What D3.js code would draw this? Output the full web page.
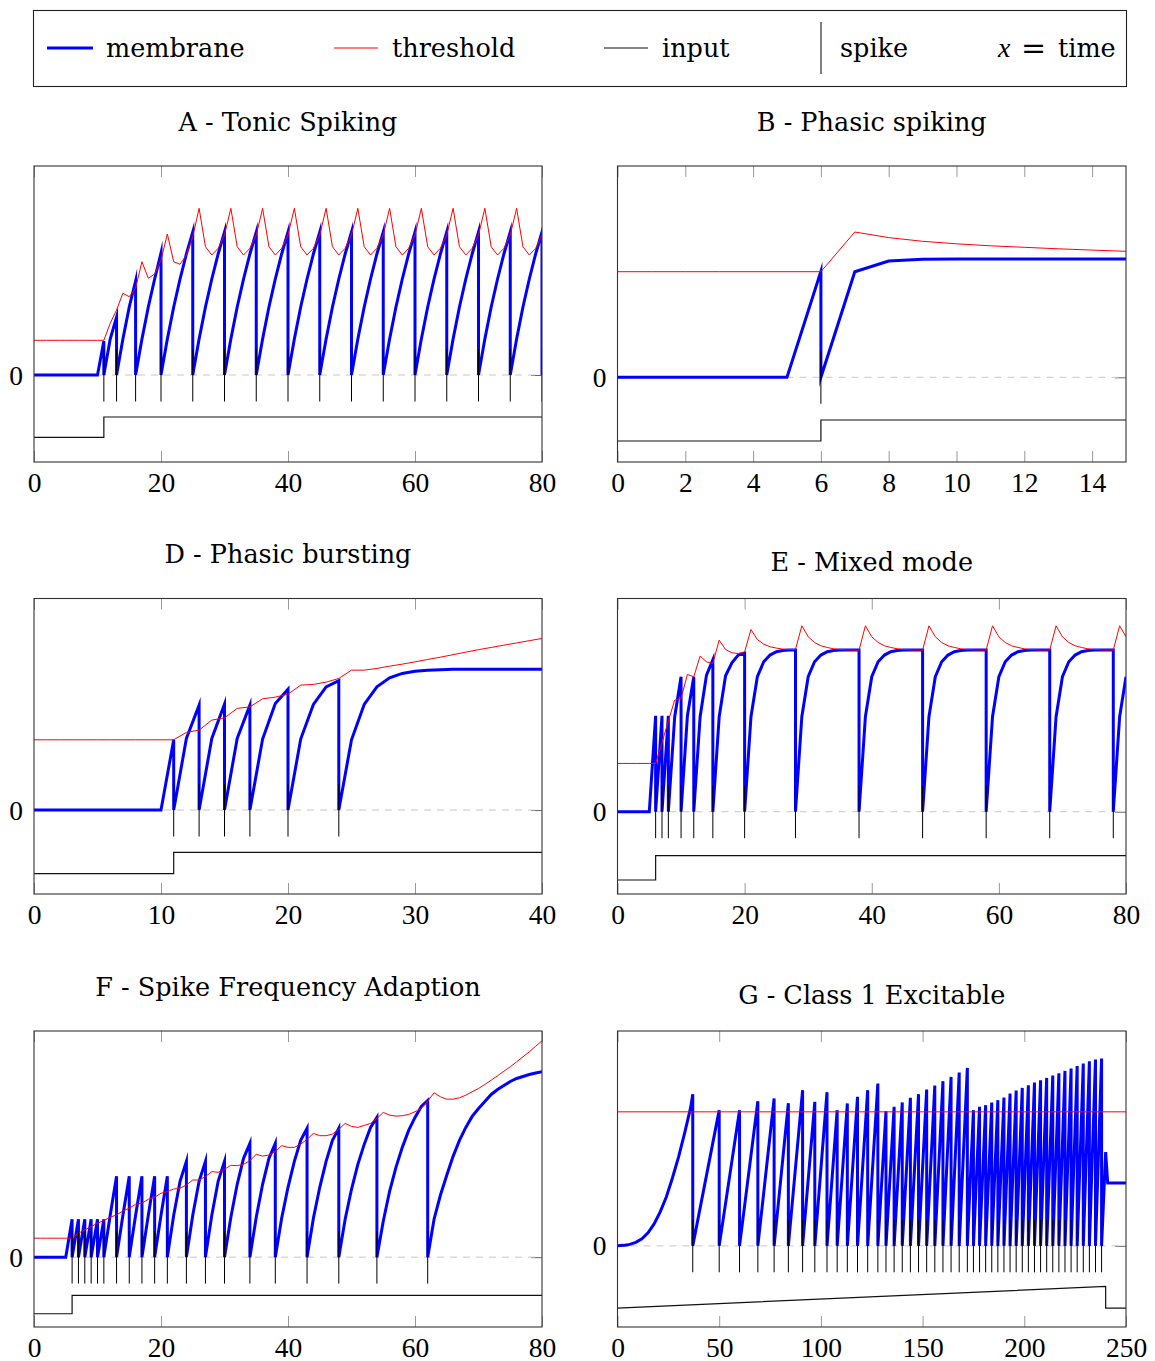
<!DOCTYPE html>
<html lang="en">
<head>
<meta charset="utf-8">
<title>Spiking neuron behaviours</title>
<script src="https://cdn.jsdelivr.net/npm/d3@7"></script>
<style>
  body { margin: 0; background: #fff; }
  .title, .legend-text { font-family: 'DejaVu Serif', serif; font-size: 25.5px; fill: #000; }
  .tick text { font-family: 'Liberation Serif', serif; font-size: 27.5px; fill: #000; }
  .tick line { stroke: #999; stroke-width: 1; }
  .domain { display: none; }
  .frame { fill: none; stroke: #333; stroke-width: 1.1; }
  .zero { stroke: #c8c8c8; stroke-width: 1; stroke-dasharray: 7 6; }
  .membrane { fill: none; stroke: #0000ff; stroke-width: 3; stroke-linejoin: miter; stroke-miterlimit: 10; }
  .threshold { fill: none; stroke: #ff0000; stroke-width: 1; }
  .input { fill: none; stroke: #111; stroke-width: 1.2; }
  .spike { stroke: #000; stroke-width: 1; }
</style>
</head>
<body>
<svg id="chart" width="1155" height="1361"></svg>
<script>
// ---- data ----
// membrane / threshold: one value per time step, index = time
const membraneA = [0,0,0,0,0,0,0,0,0,0,0, 3.4,3.6,5.8,3.6,6.8,9.4,3.6,6.8,9.6,12.2,
  3.6,6.8,9.6,12.1,14.3, 3.6,6.8,9.6,12.1,14.3, 3.6,6.8,9.6,12.1,14.3, 3.6,6.8,9.6,12.1,14.3,
  3.6,6.8,9.6,12.1,14.3, 3.6,6.8,9.6,12.1,14.3, 3.6,6.8,9.6,12.1,14.3, 3.6,6.8,9.6,12.1,14.3,
  3.6,6.8,9.6,12.1,14.3, 3.6,6.8,9.6,12.1,14.3, 3.6,6.8,9.6,12.1,14.3, 3.6,6.8,9.6,12.1,14.3];
const thresholdA = [3.47,3.47,3.47,3.47,3.47,3.47,3.47,3.47,3.47,3.47,3.47,3.47,
  5.17,6.5,8.17,7.83,8.67,11.33,9.67,10.1,11.5,14.1,11.33,11.07,12.0,13.83,
  16.67,12.83,12.0,12.67,14.0, 16.67,12.83,12.0,12.67,14.0, 16.67,12.83,12.0,12.67,14.0,
  16.67,12.83,12.0,12.67,14.0, 16.67,12.83,12.0,12.67,14.0, 16.67,12.83,12.0,12.67,14.0,
  16.67,12.83,12.0,12.67,14.0, 16.67,12.83,12.0,12.67,14.0, 16.67,12.83,12.0,12.67,14.0,
  16.67,12.83,12.0,12.67,14.0, 16.67,12.83,12.0,12.67,14.0];
const inputA = [[0,-6.23],[11,-6.23],[11,-4.2],[80,-4.2]];
const spikesA = [11,13,16,20,25,30,35,40,45,50,55,60,65,70,75,80];

const membraneB = [0,0,0,0,0,0,10.6,10.56,11.63,11.8,11.83,11.83,11.83,11.83,11.83,11.83];
const thresholdB = [10.56,10.56,10.56,10.56,10.56,10.56,10.56,14.53,13.97,13.6,13.35,13.15,13.0,12.85,12.72,12.6];
const inputB = [[0,-6.37],[6,-6.37],[6,-4.27],[15,-4.27]];
const spikesB = [6];

const membraneD = [0,0,0,0,0,0,0,0,0,0,0, 7.03,7.17,10.5,7.17,10.6,7.17,10.5,7.1,10.67,12.1,
  7.1,10.57,12.33,12.95,7.03,10.57,12.33,13.23,13.67,13.9,14.0,14.05,
  14.1,14.1,14.1,14.1,14.1,14.1,14.1,14.1];
const thresholdD = [7.03,7.03,7.03,7.03,7.03,7.03,7.03,7.03,7.03,7.03,7.03,7.03,
  7.77,8.0,9.0,9.23,10.17,10.33,11.13,11.3,11.6,12.5,12.57,12.8,13.17,14.0,14.0,14.17,
  14.4,14.6,14.83,15.07,15.3,15.55,15.8,16.05,16.27,16.5,16.72,16.95,17.17];
const inputD = [[0,-6.37],[11,-6.37],[11,-4.23],[40,-4.23]];
const spikesD = [11,13,15,17,20,24];

const membraneE = [0,0,0,0,0,0, 9.6,9.6,9.6,9.5,13.5,9.6,13.5,9.5,13.67,15.2,9.5,13.6,14.9,15.67,15.85,
  9.5,13.5,15.0,15.67,16.0,16.13,16.17,16.17,
  9.5,13.5,15.0,15.67,16.0,16.13,16.17,16.17,16.17,16.17,
  9.5,13.5,15.0,15.67,16.0,16.13,16.17,16.17,16.17,16.17,
  9.5,13.5,15.0,15.67,16.0,16.13,16.17,16.17,16.17,16.17,
  9.5,13.5,15.0,15.67,16.0,16.13,16.17,16.17,16.17,16.17,
  9.5,13.5,15.0,15.67,16.0,16.13,16.17,16.17,16.17,16.17,
  9.5,13.5];
const thresholdE = [4.83,4.83,4.83,4.83,4.83,4.83,4.83,
  6.9,9.07,11.17,11.33,13.73,13.5,15.57,15.0,14.83,17.17,16.23,15.9,15.83,16.0,
  18.23,17.23,16.77,16.5,16.37,16.27,16.23,16.23,
  18.6,17.5,16.93,16.6,16.43,16.3,16.23,16.2,16.17,16.17,
  18.6,17.5,16.93,16.6,16.43,16.3,16.23,16.2,16.17,16.17,
  18.6,17.5,16.93,16.6,16.43,16.3,16.23,16.2,16.17,16.17,
  18.6,17.5,16.93,16.6,16.43,16.3,16.23,16.2,16.17,16.17,
  18.6,17.5,16.93,16.6,16.43,16.3,16.23,16.2,16.17,16.17,
  18.6,17.5];
const inputE = [[0,-6.83],[6,-6.83],[6,-4.4],[80,-4.4]];
const spikesE = [6,7,8,10,12,15,20,28,38,48,58,68,78];

const membraneF = [0,0,0,0,0,0, 3.8,3.8,3.8,3.8,3.8,3.8,
  4.2,8.1,4.2,8.1,4.2,8.1,4.2,8.1,4.2,8.1,
  4.2,7.6,9.6,4.2,7.6,9.6,4.2,7.6,9.6,
  4.0,7.3,9.9,11.4,4.0,7.3,9.9,11.4,
  3.9,7.0,9.6,11.7,12.9,3.9,7.0,9.6,11.7,12.9,
  3.8,6.8,9.3,11.3,13.0,14.0,
  3.6,6.6,9.0,11.0,12.7,14.0,15.1,15.7,
  3.8,6.2,8.2,10.1,11.7,13.0,14.1,14.9,15.6,16.3,16.8,17.2,17.6,17.9,18.1,18.3,18.45,18.57];
const thresholdF = [1.9,1.9,1.9,1.9,1.9,1.9,1.9,
  2.4,2.73,3.07,3.4,3.67,4.0,4.23,4.63,4.9,5.3,5.4,5.8,6.0,6.4,6.57,6.83,6.9,7.23,7.73,7.73,
  8.07,8.57,8.5,8.8,9.2,9.17,9.3,9.67,10.3,10.13,10.23,10.57,11.17,11.0,11.0,11.33,11.8,
  12.4,12.17,12.17,12.33,12.8,13.4,13.1,13.0,13.2,13.4,13.9,14.5,14.23,14.13,14.17,14.3,
  14.57,14.9,15.63,16.47,16.07,15.83,15.83,15.97,16.23,16.57,16.9,17.3,17.73,18.17,18.63,
  19.07,19.57,20.07,20.57,21.13,21.67];
const inputF = [[0,-5.67],[6,-5.67],[6,-3.83],[80,-3.83]];
const spikesF = [6,7,8,9,10,11,13,15,17,19,21,24,27,30,34,38,43,48,54,62];

// panel G is sampled unevenly: [time, value]
const membraneG = [[0,0],[3,0.05],[6,0.15],[9,0.35],[12,0.7],[15,1.3],[18,2.2],[21,3.4],[24,4.9],
  [27,6.8],[30,8.9],[33,11.3],[36,13.9],[37,15.2],[50,13.6],[60,13.6],[69,14.5],[77,14.77],
  [84,14.3],[91,15.6],[97,14.43],[103,15.4],[108,13.6],[113,14.27],[118,14.93],[123,15.6],
  [128,16.27],[132,13.5],[136,13.93],[140,14.37],[144,14.83],[148,15.2],[152,15.67],[156,16.07],
  [160,16.5],[164,16.93],[168,17.37],[172,17.83],[175,13.6],[178,13.93],[181,14.1],[184,14.37],
  [187,14.6],[190,14.87],[193,15.27],[196,15.57],[199,15.83],[202,16.1],[205,16.37],[208,16.6],
  [211,16.83],[214,17.07],[217,17.3],[220,17.53],[223,17.77],[226,18.03],[229,18.27],[232,18.5],
  [235,18.67],[238,18.77],[240,9.4],[241,6.3],[250,6.3]];
const thresholdG = [[0,13.43],[250,13.43]];
const inputG = [[0,-6.23],[240,-4.07],[240,-6.23],[250,-6.23]];
const spikesG = [37,50,60,69,77,84,91,97,103,108,113,118,123,128,132,136,140,144,148,152,156,
  160,164,168,172,175,178,181,184,187,190,193,196,199,202,205,208,211,214,217,220,223,226,229,
  232,235,238];

// axis ranges and tick labels
const yRangeA = [-8.7, 20.9], yRangeB = [-8.47, 21.13], yRangeD = [-8.4, 21.17];
const yRangeE = [-8.23, 21.33], yRangeF = [-7.0, 22.66], yRangeG = [-8.13, 21.53];
const xTicksA = [0,20,40,60,80], xTicksB = [0,2,4,6,8,10,12,14], xTicksD = [0,10,20,30,40];
const xTicksE = [0,20,40,60,80], xTicksF = [0,20,40,60,80], xTicksG = [0,50,100,150,200,250];
const spikeSpan = [-2.65, 2.6];

const titles = ["A - Tonic Spiking", "B - Phasic spiking", "D - Phasic bursting",
  "E - Mixed mode", "F - Spike Frequency Adaption", "G - Class 1 Excitable"];

const steps = vals => vals.map((v, i) => [i, v]);

const panels = [
  {title: titles[0], left: 34, right: 542, top: 166, bottom: 462, titleY: 130.5, xMax: 80,
   yRange: yRangeA, ticks: xTicksA, membrane: steps(membraneA), threshold: steps(thresholdA), input: inputA, spikes: spikesA},
  {title: titles[1], left: 617.5, right: 1126, top: 166, bottom: 462, titleY: 130.5, xMax: 15,
   yRange: yRangeB, ticks: xTicksB, membrane: steps(membraneB), threshold: steps(thresholdB), input: inputB, spikes: spikesB},
  {title: titles[2], left: 34, right: 542, top: 598.5, bottom: 894, titleY: 563, xMax: 40,
   yRange: yRangeD, ticks: xTicksD, membrane: steps(membraneD), threshold: steps(thresholdD), input: inputD, spikes: spikesD},
  {title: titles[3], left: 617.5, right: 1126, top: 598.5, bottom: 894, titleY: 571, xMax: 80,
   yRange: yRangeE, ticks: xTicksE, membrane: steps(membraneE), threshold: steps(thresholdE), input: inputE, spikes: spikesE},
  {title: titles[4], left: 34, right: 542, top: 1031, bottom: 1327, titleY: 995.5, xMax: 80,
   yRange: yRangeF, ticks: xTicksF, membrane: steps(membraneF), threshold: steps(thresholdF), input: inputF, spikes: spikesF},
  {title: titles[5], left: 617.5, right: 1126, top: 1031, bottom: 1327, titleY: 1003.5, xMax: 250,
   yRange: yRangeG, ticks: xTicksG, membrane: membraneG, threshold: thresholdG, input: inputG, spikes: spikesG}
];

const svg = d3.select("#chart");

// membrane resets to 0 right after each spike
function withResets(points, spikes) {
  let out = [];
  points.forEach(d => {
    out.push(d);
    if (spikes.includes(d[0])) out.push([d[0], 0]);
  });
  return out;
}

function drawPanel(p, k) {
  let x = d3.scaleLinear().domain([0, p.xMax]).range([p.left, p.right]);
  let y = d3.scaleLinear().domain(p.yRange).range([p.bottom, p.top]);
  let line = d3.line().x(d => x(d[0])).y(d => y(d[1]));
  let g = svg.append("g");

  g.append("clipPath").attr("id", "clip" + k)
    .append("rect")
    .attr("x", p.left).attr("y", p.top)
    .attr("width", p.right - p.left).attr("height", p.bottom - p.top);

  // x ticks, bottom (with labels) and top
  g.append("g")
    .attr("transform", "translate(0," + p.bottom + ")")
    .call(d3.axisBottom(x).tickValues(p.ticks).tickSizeInner(-11).tickSizeOuter(0))
    .selectAll("text").attr("y", 29.5).attr("dy", 0);
  g.append("g")
    .attr("transform", "translate(0," + p.top + ")")
    .call(d3.axisTop(x).tickValues(p.ticks).tickSizeInner(-11).tickSizeOuter(0).tickFormat(""));

  // y tick at 0, both sides
  g.append("g")
    .attr("transform", "translate(" + p.left + ",0)")
    .call(d3.axisLeft(y).tickValues([0]).tickSizeInner(-11).tickSizeOuter(0).tickPadding(11))
    .selectAll("text").attr("dy", "0.33em");
  g.append("g")
    .attr("class", "ytick-right")
    .attr("transform", "translate(" + p.right + ",0)")
    .call(d3.axisRight(y).tickValues([0]).tickSizeInner(-11).tickSizeOuter(0).tickFormat(""))
    .selectAll("line").style("stroke", "#666");

  let plot = g.append("g").attr("clip-path", "url(#clip" + k + ")");

  plot.append("line").attr("class", "zero")
    .attr("x1", x(0)).attr("x2", x(p.xMax))
    .attr("y1", y(0)).attr("y2", y(0));

  plot.append("path").attr("class", "membrane")
    .attr("d", line(withResets(p.membrane, p.spikes)));
  plot.append("path").attr("class", "threshold")
    .attr("d", line(p.threshold));
  plot.append("path").attr("class", "input")
    .attr("d", line(p.input));

  plot.selectAll(".spike")
    .data(p.spikes)
    .join("line")
    .attr("class", "spike")
    .attr("x1", d => x(d)).attr("x2", d => x(d))
    .attr("y1", y(spikeSpan[1])).attr("y2", y(spikeSpan[0]));

  g.append("rect").attr("class", "frame")
    .attr("x", p.left).attr("y", p.top)
    .attr("width", p.right - p.left).attr("height", p.bottom - p.top);

  g.append("text").attr("class", "title")
    .attr("x", (p.left + p.right) / 2).attr("y", p.titleY)
    .attr("text-anchor", "middle")
    .text(p.title);
}

panels.forEach(drawPanel);

// legend
const legend = svg.append("g");
legend.append("rect")
  .attr("x", 33.5).attr("y", 10.5).attr("width", 1093).attr("height", 76)
  .attr("fill", "none").attr("stroke", "#222").attr("stroke-width", 1.1);

const legendItems = [
  {cls: "membrane", x1: 47, x2: 93, label: "membrane", tx: 106},
  {cls: "threshold", x1: 334, x2: 378, label: "threshold", tx: 392},
  {cls: "input", x1: 604, x2: 648, label: "input", tx: 662}
];
legendItems.forEach(d => {
  legend.append("line").attr("class", d.cls)
    .attr("x1", d.x1).attr("x2", d.x2).attr("y1", 48).attr("y2", 48);
  legend.append("text").attr("class", "legend-text")
    .attr("x", d.tx).attr("y", 56.5).text(d.label);
});
legend.append("line").attr("class", "spike")
  .attr("x1", 821).attr("x2", 821).attr("y1", 22).attr("y2", 74);
legend.append("text").attr("class", "legend-text")
  .attr("x", 840).attr("y", 56.5).text("spike");
legend.append("text")
  .attr("x", 998).attr("y", 56.5)
  .style("font-family", "'Liberation Serif', serif").style("font-style", "italic").style("font-size", "28px")
  .text("x");
legend.append("text")
  .attr("x", 1033.5).attr("y", 57.5)
  .attr("text-anchor", "middle")
  .style("font-family", "'DejaVu Serif', serif").style("font-size", "30px")
  .text("=");
legend.append("text").attr("class", "legend-text")
  .attr("x", 1058).attr("y", 56.5).text("time");
</script>
</body>
</html>
